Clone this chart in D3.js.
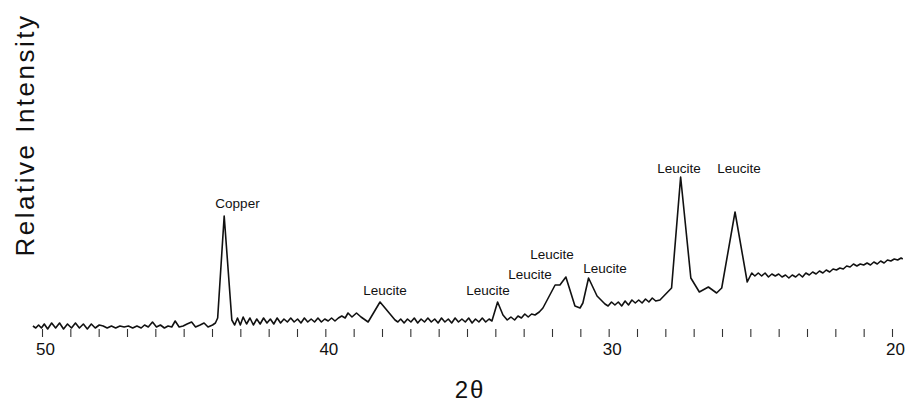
<!DOCTYPE html>
<html>
<head>
<meta charset="utf-8">
<script src="https://cdn.jsdelivr.net/npm/d3@7"></script>
<style>
  body { margin: 0; background: #fff; }
  svg text { font-family: "Liberation Sans", Arial, Helvetica, sans-serif; fill: #111; }
</style>
</head>
<body>
<div id="chart"></div>
<script>
// diffraction trace: [2theta, counts]
const pattern = [
  [50.32, 4], [50.22, 2], [50.12, 5], [50.02, 2], [49.92, 6], [49.80, 1], [49.66, 7], [49.52, 2],
  [49.38, 7], [49.24, 1], [49.10, 6], [48.96, 2], [48.82, 7], [48.68, 2], [48.54, 6], [48.40, 1],
  [48.26, 6], [48.12, 2], [47.98, 5], [47.84, 4], [47.70, 2], [47.55, 4], [47.40, 2], [47.25, 4],
  [47.10, 3], [46.95, 4], [46.80, 2], [46.65, 4], [46.50, 2], [46.38, 5], [46.25, 3], [46.10, 8],
  [45.96, 3], [45.82, 5], [45.68, 2], [45.55, 4], [45.42, 3], [45.30, 9], [45.16, 3], [45.02, 4],
  [44.88, 6], [44.72, 8], [44.58, 3], [44.42, 5], [44.28, 7], [44.14, 3], [43.98, 5], [43.88, 7],
  [43.80, 12], [43.57, 114], [43.30, 10], [43.20, 5], [43.10, 12], [43.00, 5], [42.90, 13], [42.78, 6],
  [42.66, 12], [42.54, 5], [42.42, 11], [42.30, 6], [42.18, 12], [42.06, 7], [41.94, 11], [41.82, 6],
  [41.70, 12], [41.58, 7], [41.46, 11], [41.34, 8], [41.22, 12], [41.10, 8], [40.98, 11], [40.86, 7],
  [40.74, 12], [40.62, 8], [40.50, 11], [40.38, 8], [40.26, 12], [40.14, 8], [40.02, 11], [39.90, 9],
  [39.78, 12], [39.66, 9], [39.54, 12], [39.42, 14], [39.30, 12], [39.20, 17], [39.06, 13], [38.90, 17],
  [38.74, 13], [38.49, 8], [38.07, 28], [37.54, 10], [37.44, 8], [37.34, 11], [37.22, 7], [37.10, 11],
  [36.98, 8], [36.86, 12], [36.74, 7], [36.62, 11], [36.50, 8], [36.38, 12], [36.26, 8], [36.14, 11],
  [36.02, 7], [35.90, 12], [35.78, 8], [35.66, 11], [35.54, 7], [35.42, 12], [35.30, 8], [35.18, 11],
  [35.06, 8], [34.94, 12], [34.82, 7], [34.70, 11], [34.58, 8], [34.46, 12], [34.34, 8], [34.22, 11],
  [34.12, 9], [33.92, 28], [33.73, 15], [33.58, 10], [33.45, 13], [33.32, 10], [33.20, 14], [33.08, 12],
  [32.96, 16], [32.84, 13], [32.72, 16], [32.60, 15], [32.45, 18], [32.32, 22], [31.89, 45], [31.72, 45],
  [31.51, 53], [31.19, 24], [31.01, 22], [30.91, 27], [30.71, 52], [30.41, 34], [30.13, 26], [30.02, 24],
  [29.90, 28], [29.78, 25], [29.66, 28], [29.54, 24], [29.42, 29], [29.30, 25], [29.18, 30], [29.06, 27],
  [28.94, 30], [28.82, 27], [28.70, 31], [28.58, 28], [28.46, 32], [28.34, 29], [28.19, 30], [27.78, 42],
  [27.46, 153], [27.10, 52], [26.80, 38], [26.48, 43], [26.19, 37], [26.01, 42], [25.54, 118], [25.11, 48],
  [24.95, 57], [24.84, 54], [24.72, 57], [24.60, 54], [24.48, 57], [24.36, 53], [24.24, 56], [24.12, 54],
  [24.00, 56], [23.88, 53], [23.76, 55], [23.64, 52], [23.52, 55], [23.40, 53], [23.28, 56], [23.16, 53],
  [23.04, 57], [22.92, 55], [22.80, 58], [22.68, 56], [22.56, 59], [22.44, 57], [22.32, 60], [22.20, 58],
  [22.08, 61], [21.96, 60], [21.84, 62], [21.72, 61], [21.60, 64], [21.48, 63], [21.36, 66], [21.24, 64],
  [21.12, 66], [21.00, 65], [20.88, 67], [20.76, 65], [20.64, 68], [20.52, 66], [20.40, 69], [20.28, 67],
  [20.16, 70], [20.04, 69], [19.92, 71], [19.80, 70], [19.68, 72], [19.62, 71]
];

// peak annotations: text, 2theta of label centre, counts level of the label baseline
const peakNames = ["Copper", "Leucite", "Leucite", "Leucite", "Leucite", "Leucite", "Leucite", "Leucite"];
const peakTheta = [43.10, 37.89, 34.26, 32.78, 32.00, 30.13, 27.52, 25.40];
const peakLevel = [122, 35, 35, 51, 71, 57, 157, 157];

const labelledTicks = [50, 40, 30, 20];

const width = 908, height = 405;

const svg = d3.select("#chart")
    .append("svg")
    .attr("width", width)
    .attr("height", height);

// reversed 2theta axis
const x = d3.scaleLinear().domain([50, 20]).range([42, 892]);
const y = d3.scaleLinear().domain([0, 160]).range([330, 170]);

const line = d3.line()
    .x(d => x(d[0]))
    .y(d => y(d[1]));

svg.append("path")
    .datum(pattern)
    .attr("fill", "none")
    .attr("stroke", "#111")
    .attr("stroke-width", 1.6)
    .attr("stroke-linejoin", "round")
    .attr("d", line);

// tick marks only, no axis line
const axis = svg.append("g")
    .attr("transform", "translate(0,329)")
    .call(d3.axisBottom(x)
        .ticks(30)
        .tickSize(8)
        .tickPadding(6)
        .tickFormat(d => labelledTicks.includes(d) ? d : ""));
axis.select(".domain").remove();
axis.selectAll(".tick line").attr("stroke", "#333").attr("stroke-width", 1.1);
axis.selectAll(".tick text")
    .attr("dx", 3)
    .style("font-size", "17px")
    .style("font-family", "'Liberation Sans', Arial, sans-serif")
    .attr("fill", "#111");

// peak labels
svg.selectAll("text.peak")
    .data(peakNames)
    .enter()
    .append("text")
    .attr("class", "peak")
    .attr("x", (d, i) => x(peakTheta[i]))
    .attr("y", (d, i) => y(peakLevel[i]))
    .attr("text-anchor", "middle")
    .style("font-size", "13.5px")
    .text(d => d);

// axis titles
svg.append("text")
    .attr("x", 470)
    .attr("y", 398)
    .attr("text-anchor", "middle")
    .style("font-size", "24px")
    .style("letter-spacing", "2px")
    .text("2θ");

svg.append("text")
    .attr("transform", "translate(34,135) rotate(-90)")
    .attr("text-anchor", "middle")
    .style("font-size", "26px")
    .style("letter-spacing", "2.5px")
    .text("Relative Intensity");
</script>
</body>
</html>
